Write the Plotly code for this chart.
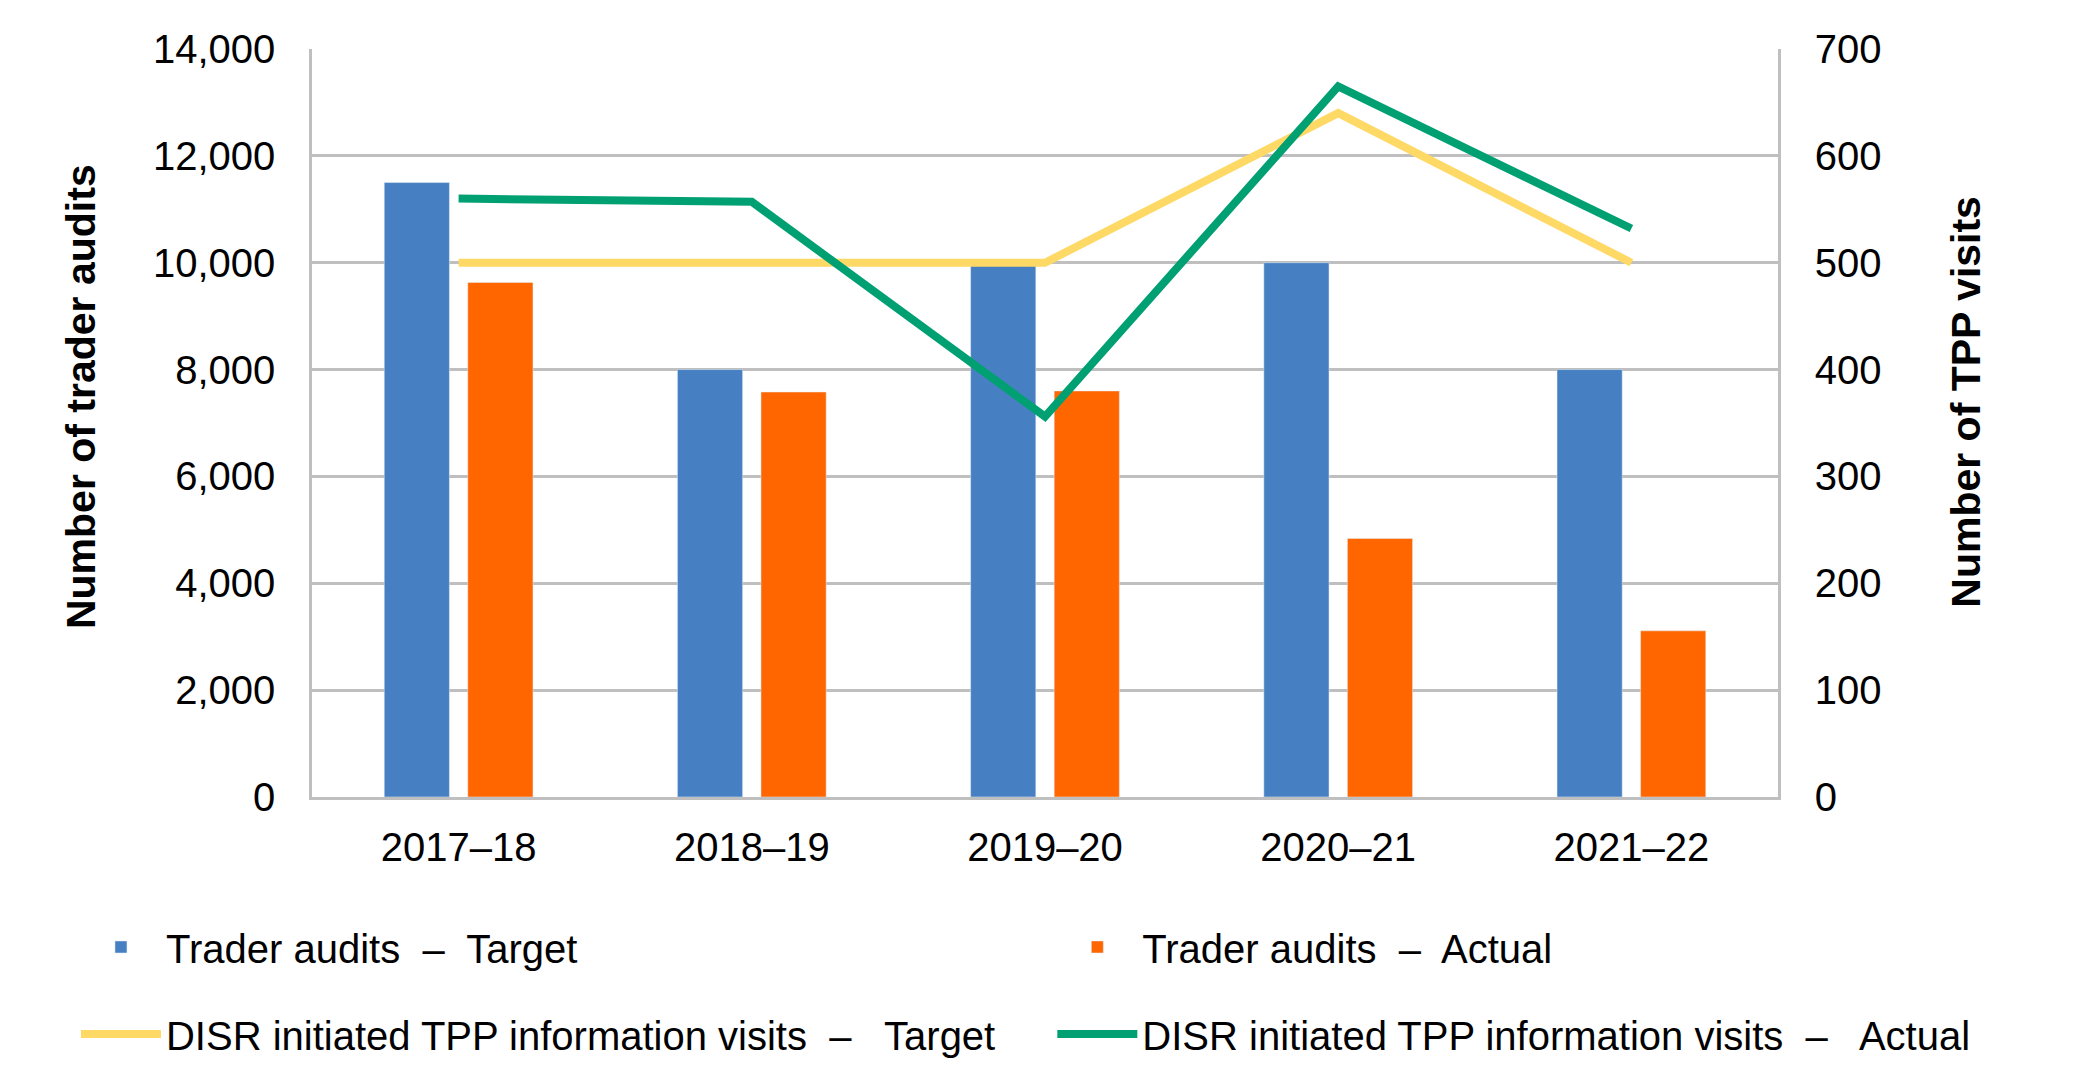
import plotly.graph_objects as go

# data
years = ["2017–18", "2018–19", "2019–20", "2020–21", "2021–22"]
audits_target = [11500, 8000, 10000, 10000, 8000]
audits_actual = [9630, 7580, 7600, 4840, 3110]
visits_target = [500, 500, 500, 640, 500]
visits_actual = [560, 557, 356, 665, 532]

font = "Liberation Sans, Arial, sans-serif"
grid = "#bfbfbf"

fig = go.Figure()
fig.add_trace(go.Bar(x=years, y=audits_target, name="Trader audits \u00a0–\u00a0 Target",
                     marker_color="#4680c2", legend="legend"))
fig.add_trace(go.Bar(x=years, y=audits_actual, name="Trader audits \u00a0–\u00a0 Actual",
                     marker_color="#ff6600", legend="legend2"))
fig.add_trace(go.Scatter(x=years, y=visits_target, yaxis="y2", mode="lines",
                         name="DISR initiated TPP information visits \u00a0–\u00a0\u00a0 Target",
                         line=dict(color="#ffd966", width=8), legend="legend3"))
fig.add_trace(go.Scatter(x=years, y=visits_actual, yaxis="y2", mode="lines",
                         name="DISR initiated TPP information visits \u00a0–\u00a0\u00a0 Actual",
                         line=dict(color="#00a073", width=8), legend="legend4"))

# one legend per entry so each sits where the reference has it
leg = dict(orientation="h", xanchor="left", yanchor="middle",
           font=dict(size=40), itemwidth=80, bgcolor="rgba(0,0,0,0)")

fig.update_layout(
    width=2073, height=1091,
    margin=dict(l=304, r=303, t=41, b=302),
    paper_bgcolor="white", plot_bgcolor="white",
    font=dict(family=font, size=40, color="black"),
    barmode="group", bargap=0.43, bargroupgap=0.22,
    xaxis=dict(showline=True, linecolor=grid, linewidth=3, ticks="",
               tickfont=dict(size=40), ticklabelstandoff=13),
    yaxis=dict(range=[0, 14000], dtick=2000, tickformat=",", showgrid=True,
               gridcolor=grid, gridwidth=2.5, showline=True, linecolor=grid,
               linewidth=2.5, zeroline=False, ticks="", ticklabelstandoff=26),
    yaxis2=dict(range=[0, 700], dtick=100, overlaying="y", side="right",
                showgrid=False, showline=True, linecolor=grid, linewidth=2.5,
                zeroline=False, ticks="", ticklabelstandoff=26),
    legend=dict(leg, x=-0.161, y=-0.2005),
    legend2=dict(leg, x=0.505, y=-0.2005),
    legend3=dict(leg, x=-0.161, y=-0.317),
    legend4=dict(leg, x=0.505, y=-0.317),
    showlegend=True,
)

fig.add_annotation(text="<b>Number of trader audits</b>", xref="paper", yref="paper",
                   x=-0.1576, y=0.536, textangle=-90, showarrow=False,
                   xanchor="center", yanchor="middle", font=dict(size=41))
fig.add_annotation(text="<b>Number of TPP visits</b>", xref="paper", yref="paper",
                   x=1.128, y=0.528, textangle=-90, showarrow=False,
                   xanchor="center", yanchor="middle", font=dict(size=41))

fig.write_html("out.html")
